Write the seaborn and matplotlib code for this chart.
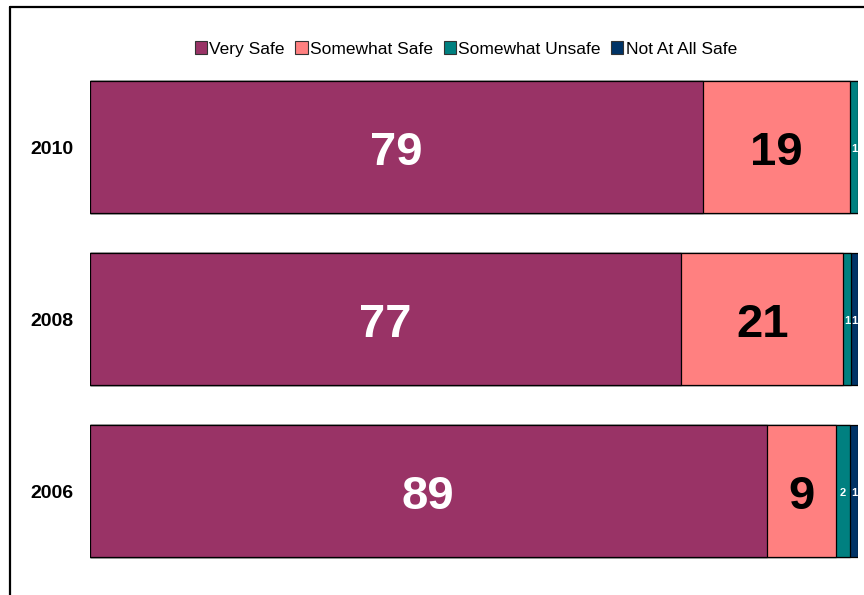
import matplotlib
matplotlib.use("Agg")
import matplotlib.pyplot as plt
from matplotlib.patches import Patch
from matplotlib.lines import Line2D
import numpy as np
import pandas as pd
import seaborn as sns

# ---- data ----
years = ["2010", "2008", "2006"]
categories = ["Very Safe", "Somewhat Safe", "Somewhat Unsafe", "Not At All Safe"]
very_safe = [79.8, 77.0, 88.1]
somewhat_safe = [19.2, 21.1, 9.0]
somewhat_unsafe = [1.0, 1.0, 1.9]
not_at_all_safe = [0.0, 0.96, 1.0]
labels_very_safe = ["79", "77", "89"]
labels_somewhat_safe = ["19", "21", "9"]
labels_somewhat_unsafe = ["1", "1", "2"]
labels_not_at_all_safe = ["", "1", "1"]
colors = ["#993366", "#FF8080", "#008080", "#003366"]

sns.set_theme(style="white")
plt.rcParams["font.family"] = ["Liberation Sans", "DejaVu Sans"]
plt.rcParams["text.color"] = "black"

series = [very_safe, somewhat_safe, somewhat_unsafe, not_at_all_safe]
label_sets = [labels_very_safe, labels_somewhat_safe, labels_somewhat_unsafe, labels_not_at_all_safe]
label_colors = ["white", "black", "white", "white"]
label_sizes = [34, 34, 8, 8]
label_offsets = [0.105, 0.105, 0.027, 0.027]

fig = plt.figure(figsize=(8.64, 5.95), dpi=100)
ax = fig.add_axes([90 / 864, 1 - 577 / 595, 768 / 864, 516 / 595])

cum = np.cumsum(np.array(series), axis=0)
# draw cumulative totals from last to first (stacked effect)
for i in range(len(series) - 1, -1, -1):
    df = pd.DataFrame({"year": years, "value": cum[i]})
    sns.barplot(data=df, x="value", y="year", order=years, orient="h",
                color=colors[i], saturation=1, edgecolor="black",
                linewidth=0.9, width=0.767, ax=ax)

# value labels
for i in range(len(series)):
    starts = cum[i] - np.array(series[i])
    for j, y in enumerate(years):
        txt = label_sets[i][j]
        if not txt:
            continue
        xc = starts[j] + series[i][j] / 2
        ax.text(xc, j + label_offsets[i], txt, ha="center", va="baseline",
                color=label_colors[i], fontsize=label_sizes[i], fontweight="bold")

ax.set_xlim(0, 100)
ax.set_ylim(2.5, -0.5)
ax.set_xlabel("")
ax.set_ylabel("")
ax.set_xticks([])
for s in ax.spines.values():
    s.set_visible(False)
ax.tick_params(axis="y", length=0, pad=12)
for t in ax.get_yticklabels():
    t.set_fontsize(14)
    t.set_fontweight("bold")
    t.set_color("black")

handles = [Patch(facecolor=c, edgecolor="#333333", linewidth=0.8) for c in colors]
fig.legend(handles, categories, loc="center", bbox_to_anchor=(466 / 864, 1 - 49 / 595),
           ncol=4, frameon=False, fontsize=12.5, handlelength=0.7, handleheight=0.7,
           handletextpad=0.15, columnspacing=0.6, borderaxespad=0, borderpad=0,
           labelcolor="black")

# outer frame (top and left visible)
fig.add_artist(Line2D([9.5 / 864, 9.5 / 864], [0, 1 - 6.5 / 595], color="black", lw=1.6,
                      transform=fig.transFigure))
fig.add_artist(Line2D([9.5 / 864, 1], [1 - 6.5 / 595, 1 - 6.5 / 595], color="black", lw=1.6,
                      transform=fig.transFigure))

fig.savefig("out.png", dpi=100)
